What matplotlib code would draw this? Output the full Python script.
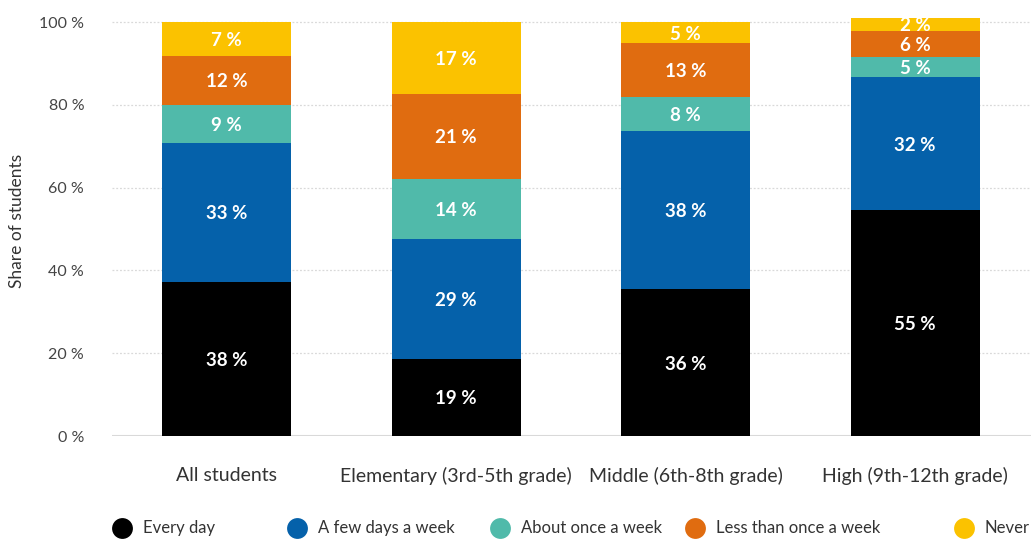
import matplotlib
matplotlib.use("Agg")
import matplotlib.pyplot as plt
from matplotlib.lines import Line2D
import numpy as np

plt.rcParams['font.family'] = ['Lato', 'DejaVu Sans']

categories = ["All students", "Elementary (3rd-5th grade)", "Middle (6th-8th grade)", "High (9th-12th grade)"]
series = ["Every day", "A few days a week", "About once a week", "Less than once a week", "Never"]
colors = ["#000000", "#0561AA", "#50BAAA", "#E06C10", "#FBC200"]

# bar heights (%)
every_day   = [37.2, 18.6, 35.5, 54.6]
few_days    = [33.6, 29.0, 38.2, 32.1]
once_week   = [9.2, 14.5, 8.2, 4.8]
less_week   = [11.8, 20.5, 13.0, 6.3]
never       = [8.2, 17.4, 5.1, 3.2]

# printed labels
lab_every_day = [38, 19, 36, 55]
lab_few_days  = [33, 29, 38, 32]
lab_once_week = [9, 14, 8, 5]
lab_less_week = [12, 21, 13, 6]
lab_never     = [7, 17, 5, 2]

values = [every_day, few_days, once_week, less_week, never]
labels = [lab_every_day, lab_few_days, lab_once_week, lab_less_week, lab_never]

W, H = 1031, 542
fig = plt.figure(figsize=(W / 100, H / 100), dpi=100)
ymax = 101
px_per = 4.14
ax_left, ax_right, ax_bottom = 112, 1031, 436
ax_top = ax_bottom - ymax * px_per
ax = fig.add_axes([ax_left / W, 1 - ax_bottom / H, (ax_right - ax_left) / W, (ax_bottom - ax_top) / H])

x = np.arange(len(categories))
step = 229.5
ax.set_xlim((ax_left - 226.5) / step, (ax_right - 226.5) / step)
ax.set_ylim(0, ymax)

bw = 129 / step
bottom = np.zeros(len(categories))
for vals, labs, col in zip(values, labels, colors):
    vals = np.array(vals)
    ax.bar(x, vals, bw, bottom=bottom, color=col, zorder=3, linewidth=0)
    for xi, b, v, l in zip(x, bottom, vals, labs):
        ax.text(xi, b + v / 2, f"{l} %", ha='center', va='center_baseline', color='white',
                fontsize=13.5, fontweight='bold', zorder=4, clip_on=True)
    bottom += vals

yt = [0, 20, 40, 60, 80, 100]
ax.set_yticks(yt)
ax.set_yticklabels([f"{v} %" for v in yt], color="#444444", fontsize=11.5)
for v in yt[1:]:
    ax.axhline(v, color="#d9d9d9", linestyle=(0, (1.5, 1.5)), linewidth=0.9, zorder=1)
ax.axhline(0, color="#d9d9d9", linewidth=1.5, zorder=2)

ax.set_xticks(x)
ax.set_xticklabels(categories, color="#333333", fontsize=14)
ax.tick_params(axis='both', length=0)
ax.tick_params(axis='y', pad=20)
ax.tick_params(axis='x', pad=22)
for s in ax.spines.values():
    s.set_visible(False)

ax.set_ylabel("Share of students", color="#333333", fontsize=12.5)
ax.yaxis.set_label_coords(-(ax_left - 25) / (ax_right - ax_left), 0.515)

# legend
leg_y = 1 - 528 / H
circle_x = [122, 297, 500, 695, 964]
for cx, name, col in zip(circle_x, series, colors):
    fig.add_artist(Line2D([cx / W], [leg_y], marker='o', markersize=15, color=col,
                          markeredgewidth=0, linestyle='none', transform=fig.transFigure))
    fig.text((cx + 21) / W, leg_y, name, ha='left', va='center', fontsize=12, color="#333333")

fig.savefig("out.png", dpi=100)
